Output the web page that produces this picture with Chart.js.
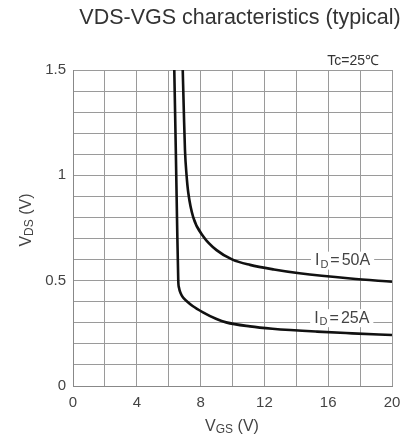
<!DOCTYPE html>
<html><head><meta charset="utf-8">
<script src="https://cdn.jsdelivr.net/npm/chart.js@4/dist/chart.umd.min.js"></script>
<style>html,body{margin:0;padding:0;background:#fff;}#wrap{width:417px;height:441px;position:relative;}</style>
</head><body><div id="wrap"><canvas id="c" width="417" height="441"></canvas></div>
<script>
// Data
const vgs25 = [6.35, 6.45, 6.52, 6.6, 6.65, 6.75, 6.9, 7.1, 7.5, 8.15, 9.0, 9.6, 11.1, 12.5, 15.3, 17.5, 20];
const vds25 = [1.5, 1.1, 0.8, 0.5, 0.465, 0.44, 0.42, 0.405, 0.38, 0.35, 0.318, 0.302, 0.283, 0.272, 0.258, 0.25, 0.242];
const vgs50 = [6.88, 6.95, 7.02, 7.12, 7.23, 7.54, 8.17, 9.0, 10.0, 11.1, 12.6, 14.2, 17.4, 20];
const vds50 = [1.5, 1.3, 1.12, 1.0, 0.916, 0.80, 0.71, 0.645, 0.60, 0.575, 0.553, 0.535, 0.51, 0.495];
const xTicks = [0, 4, 8, 12, 16, 20];
const yTicks = [0, 0.5, 1, 1.5];
const seriesLabels = ['50A', '25A'];
const labelPos = [[16.9, 0.595], [16.85, 0.322]];

const toPts = (xs, ys) => xs.map((x, i) => ({x: x, y: ys[i]}));
const FAM = '"Liberation Sans", Arial, sans-serif';

const textPlugin = {
  id: 'texts',
  afterDatasetsDraw(chart) {
    const ctx = chart.ctx, xs = chart.scales.x, ys = chart.scales.y;
    ctx.save();
    seriesLabels.forEach((lab, i) => {
      const cx = xs.getPixelForValue(labelPos[i][0]);
      const cy = ys.getPixelForValue(labelPos[i][1]);
      const big = '16px ' + FAM;
      const small = '11px ' + FAM;
      ctx.font = big; const wI = ctx.measureText('I').width;
      const wEq = ctx.measureText('=').width;
      const wR = ctx.measureText(lab).width;
      ctx.font = small; const wD = ctx.measureText('D').width;
      const gap = 2;
      const tw = wI + 1 + wD + gap + wEq + gap + wR;
      ctx.fillStyle = '#fff';
      ctx.fillRect(cx - tw / 2 - 4, cy - 9, tw + 8, 18);
      ctx.fillStyle = '#444';
      ctx.textBaseline = 'middle'; ctx.textAlign = 'left';
      let x = cx - tw / 2;
      ctx.font = big; ctx.fillText('I', x, cy); x += wI + 1;
      ctx.font = small; ctx.fillText('D', x, cy + 4); x += wD + gap;
      ctx.font = big; ctx.fillText('=', x, cy); x += wEq + gap;
      ctx.fillText(lab, x, cy);
    });
    ctx.restore();
  },
  afterDraw(chart) {
    const ctx = chart.ctx;
    ctx.save();
    ctx.fillStyle = '#333';
    ctx.textBaseline = 'middle';
    ctx.font = '21.5px ' + FAM;
    ctx.textAlign = 'center';
    ctx.fillText('VDS-VGS characteristics (typical)', 240, 18);
    ctx.font = '14px ' + FAM;
    ctx.textAlign = 'right';
    ctx.fillText('Tc=25℃', 379, 61);
    const drawSub = (main, sub, rest, cx, cy) => {
      const big = '16px ' + FAM;
      const small = '12px ' + FAM;
      ctx.font = big; const w1 = ctx.measureText(main).width; const w3 = ctx.measureText(rest).width;
      ctx.font = small; const w2 = ctx.measureText(sub).width;
      let x = cx - (w1 + w2 + w3) / 2;
      ctx.textAlign = 'left';
      ctx.font = big; ctx.fillText(main, x, cy); x += w1;
      ctx.font = small; ctx.fillText(sub, x, cy + 3); x += w2;
      ctx.font = big; ctx.fillText(rest, x, cy);
    };
    ctx.fillStyle = '#444';
    drawSub('V', 'GS', ' (V)', 232, 427);
    ctx.save();
    ctx.translate(27, 220);
    ctx.rotate(-Math.PI / 2);
    drawSub('V', 'DS', ' (V)', 0, 0);
    ctx.restore();
    ctx.restore();
  }
};

new Chart(document.getElementById('c'), {
  type: 'scatter',
  data: {
    datasets: [
      {data: toPts(vgs50, vds50), showLine: true, borderColor: '#111', borderWidth: 2.6, pointRadius: 0, cubicInterpolationMode: 'monotone', fill: false},
      {data: toPts(vgs25, vds25), showLine: true, borderColor: '#111', borderWidth: 2.6, pointRadius: 0, cubicInterpolationMode: 'monotone', fill: false}
    ]
  },
  options: {
    responsive: false,
    animation: false,
    devicePixelRatio: 1,
    layout: {padding: {left: 0, top: 70, right: 25, bottom: 0}},
    plugins: {legend: {display: false}, title: {display: false}, tooltip: {enabled: false}},
    scales: {
      x: {
        type: 'linear', min: 0, max: 20,
        afterFit(s) { s.height = 55; },
        grid: {color: '#9a9a9a', lineWidth: 1, drawTicks: false},
        border: {color: '#888', width: 1},
        ticks: {stepSize: 2, padding: 8, autoSkip: false, color: '#444',
          font: {size: 15, family: FAM},
          callback: v => xTicks.includes(v) ? String(v) : ''}
      },
      y: {
        type: 'linear', min: 0, max: 1.5,
        afterFit(s) { s.width = 73; },
        grid: {color: '#9a9a9a', lineWidth: 1, drawTicks: false},
        border: {color: '#888', width: 1},
        ticks: {stepSize: 0.1, padding: 7, autoSkip: false, color: '#444',
          font: {size: 15, family: FAM},
          callback: v => { const r = Math.round(v * 10) / 10; return yTicks.some(t => Math.abs(t - r) < 1e-6) ? String(r) : ''; }}
      }
    }
  },
  plugins: [textPlugin]
});
</script></body></html>
